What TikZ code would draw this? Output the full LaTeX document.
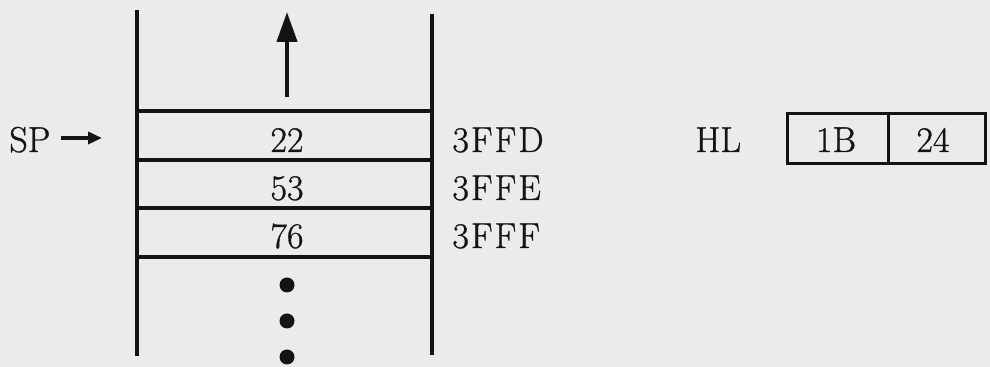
\documentclass[tikz,border=0pt]{standalone}
\usepackage{fontspec}
\usetikzlibrary{arrows.meta}
\newfontfamily\heavyrm{Latin Modern Roman}[FakeBold=0.9]
\definecolor{paper}{RGB}{235,235,233}
\definecolor{ink}{RGB}{20,20,20}
\begin{document}
\begin{tikzpicture}[x=0.5pt,y=-0.5pt,
  every node/.style={font=\heavyrm\fontsize{18}{20}\selectfont, text=ink, inner sep=0pt},
  stackline/.style={draw=ink, line width=1.6pt},
  boxline/.style={draw=ink, line width=1.5pt},
  val/.style={anchor=base},
  addr/.style={anchor=base west},
  dot/.style={circle, fill=ink, minimum size=7.5pt, inner sep=0pt}]
\fill[paper] (0,0) rectangle (990,367);
\useasboundingbox (0,0) rectangle (990,367);
% stack walls
\draw[stackline] (137,10) -- (137,356);
\draw[stackline] (432,14) -- (432,355);
% cell separators
\foreach \y in {111,160,208,257} \draw[stackline] (137,\y) -- (432,\y);
% values
\node[val] (v22) at (287,152) {22};
\node[val] (v53) at (287,200) {53};
\node[val] (v76) at (287,248) {76};
% addresses
\node[addr] (a1) at (452,152) {3\kern1pt F\kern1pt F\kern1pt D};
\node[addr] (a2) at (452,200) {3\kern1pt F\kern1pt F\kern1pt E};
\node[addr] (a3) at (452,248) {3\kern1pt F\kern1pt F\kern1pt F};
% growth arrow
\coordinate (upfrom) at (287,97);
\coordinate (upto) at (287,12);
\draw[ink, line width=2.2pt, -{Triangle[length=15pt,width=10pt]}] (upfrom) -- (upto);
% dots
\node[dot] (d1) at (287,285) {};
\node[dot] (d2) at (287,321) {};
\node[dot] (d3) at (287,357) {};
% SP pointer
\node[anchor=base west] (sp) at (9,152) {SP};
\coordinate (spto) at (102,138);
\coordinate (spfrom) at (61,138);
\draw[ink, line width=1.7pt, -{Triangle[length=7pt,width=6pt]}] (spfrom) -- (spto);
% HL register
\node[anchor=base west] (hl) at (695,152) {HL};
\node[boxline, minimum width=50.5pt, minimum height=25pt, anchor=north west] (hreg) at (786,112) {};
\node[boxline, minimum width=48.5pt, minimum height=25pt, anchor=north west] (lreg) at (887,112) {};
\node[val] (hval) at (836,152) {1B};
\node[val] (lval) at (933,152) {24};
\end{tikzpicture}
\end{document}
